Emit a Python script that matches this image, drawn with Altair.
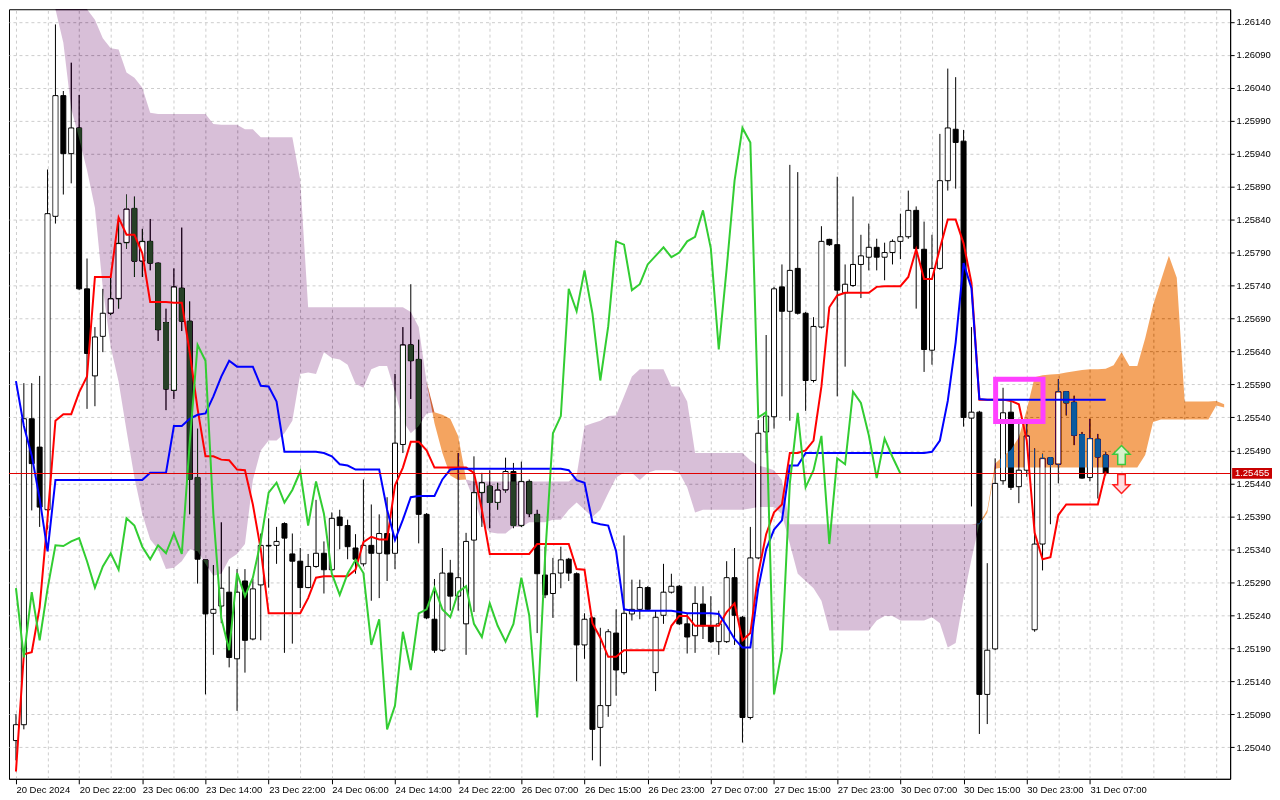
import json
import altair as alt
import pandas as pd

# ---------------- data (H1 candles with Ichimoku) ----------------
opens = [
1.25050, 1.25074, 1.25538, 1.25495, 1.25400, 1.25845, 1.26028, 1.25940, 1.25979, 1.25735,
1.25603, 1.25663, 1.25698, 1.25720, 1.25805, 1.25857, 1.25777, 1.25807, 1.25774, 1.25684,
1.25581, 1.25736, 1.25686, 1.25449, 1.25324, 1.25243, 1.25254, 1.25275, 1.25174, 1.25292,
1.25204, 1.25286, 1.25346, 1.25346, 1.25379, 1.25333, 1.25322, 1.25282, 1.25314, 1.25334,
1.25309, 1.25389, 1.25376, 1.25342, 1.25318, 1.25346, 1.25334, 1.25364, 1.25334, 1.25499,
1.25650, 1.25628, 1.25393, 1.25234, 1.25187, 1.25304, 1.25269, 1.25227, 1.25354, 1.25426,
1.25436, 1.25411, 1.25430, 1.25458, 1.25376, 1.25443, 1.25393, 1.25301, 1.25273, 1.25304,
1.25325, 1.25303, 1.25195, 1.25236, 1.25070, 1.25103, 1.25213, 1.25153, 1.25242, 1.25249,
1.25282, 1.25153, 1.25240, 1.25275, 1.25284, 1.25227, 1.25209, 1.25257, 1.25224, 1.25200,
1.25200, 1.25297, 1.25237, 1.25085, 1.25327, 1.25518, 1.25541, 1.25738, 1.25701, 1.25766,
1.25698, 1.25596, 1.25677, 1.25810, 1.25802, 1.25729, 1.25740, 1.25772, 1.25783, 1.25798,
1.25783, 1.25790, 1.25807, 1.25814, 1.25854, 1.25795, 1.25642, 1.25766, 1.25899, 1.25977,
1.25959, 1.25539, 1.25548, 1.25120, 1.25189, 1.25444, 1.25548, 1.25435, 1.25460, 1.25218,
1.25348, 1.25479, 1.25469, 1.25579, 1.25563, 1.25514, 1.25449, 1.25507, 1.25483,
]
highs = [
1.25090, 1.25592, 1.25592, 1.25603, 1.25916, 1.26136, 1.26035, 1.26078, 1.26029, 1.25781,
1.25677, 1.25735, 1.25753, 1.25841, 1.25878, 1.25875, 1.25826, 1.25841, 1.25775, 1.25705,
1.25766, 1.25828, 1.25716, 1.25523, 1.25325, 1.25316, 1.25381, 1.25314, 1.25310, 1.25310,
1.25295, 1.25364, 1.25387, 1.25374, 1.25381, 1.25364, 1.25342, 1.25333, 1.25415, 1.25352,
1.25396, 1.25400, 1.25385, 1.25363, 1.25446, 1.25408, 1.25393, 1.25419, 1.25606, 1.25677,
1.25742, 1.25658, 1.25395, 1.25295, 1.25342, 1.25324, 1.25486, 1.25365, 1.25481, 1.25456,
1.25460, 1.25441, 1.25479, 1.25471, 1.25473, 1.25446, 1.25400, 1.25344, 1.25327, 1.25344,
1.25327, 1.25305, 1.25243, 1.25238, 1.25221, 1.25219, 1.25249, 1.25361, 1.25294, 1.25294,
1.25284, 1.25247, 1.25318, 1.25303, 1.25286, 1.25242, 1.25284, 1.25284, 1.25269, 1.25247,
1.25322, 1.25342, 1.25239, 1.25374, 1.25536, 1.25665, 1.25738, 1.25772, 1.25923, 1.25912,
1.25700, 1.25692, 1.25830, 1.25811, 1.25905, 1.25772, 1.25875, 1.25817, 1.25834, 1.25811,
1.25805, 1.25810, 1.25849, 1.25884, 1.25860, 1.25837, 1.25817, 1.25970, 1.26069, 1.26056,
1.25976, 1.25677, 1.25550, 1.25319, 1.25478, 1.25585, 1.25564, 1.25538, 1.25533, 1.25493,
1.25485, 1.25480, 1.25598, 1.25580, 1.25573, 1.25518, 1.25538, 1.25515, 1.25488,
]
lows = [
1.25020, 1.25067, 1.25399, 1.25374, 1.25370, 1.25834, 1.25878, 1.25895, 1.25733, 1.25553,
1.25557, 1.25639, 1.25695, 1.25705, 1.25796, 1.25753, 1.25753, 1.25763, 1.25656, 1.25551,
1.25568, 1.25671, 1.25393, 1.25288, 1.25120, 1.25180, 1.25228, 1.25161, 1.25095, 1.25153,
1.25202, 1.25202, 1.25282, 1.25318, 1.25183, 1.25197, 1.25251, 1.25281, 1.25312, 1.25273,
1.25307, 1.25340, 1.25325, 1.25303, 1.25314, 1.25262, 1.25266, 1.25292, 1.25310, 1.25486,
1.25568, 1.25349, 1.25234, 1.25183, 1.25185, 1.25247, 1.25247, 1.25180, 1.25245, 1.25374,
1.25372, 1.25400, 1.25426, 1.25372, 1.25374, 1.25389, 1.25213, 1.25266, 1.25236, 1.25281,
1.25292, 1.25140, 1.25174, 1.25020, 1.25011, 1.25086, 1.25118, 1.25150, 1.25232, 1.25234,
1.25247, 1.25125, 1.25227, 1.25273, 1.25225, 1.25182, 1.25183, 1.25204, 1.25198, 1.25180,
1.25198, 1.25195, 1.25047, 1.25082, 1.25325, 1.25486, 1.25523, 1.25572, 1.25535, 1.25696,
1.25550, 1.25593, 1.25675, 1.25800, 1.25572, 1.25617, 1.25738, 1.25721, 1.25763, 1.25763,
1.25748, 1.25772, 1.25780, 1.25811, 1.25705, 1.25609, 1.25620, 1.25764, 1.25884, 1.25887,
1.25526, 1.25405, 1.25060, 1.25075, 1.25187, 1.25438, 1.25430, 1.25410, 1.25450, 1.25215,
1.25308, 1.25378, 1.25440, 1.25543, 1.25498, 1.25447, 1.25443, 1.25417, 1.25452,
]
closes = [
1.25074, 1.25538, 1.25470, 1.25404, 1.25849, 1.26028, 1.25940, 1.25979, 1.25735, 1.25637,
1.25662, 1.25698, 1.25720, 1.25804, 1.25856, 1.25777, 1.25807, 1.25774, 1.25673, 1.25583,
1.25738, 1.25686, 1.25446, 1.25325, 1.25242, 1.25249, 1.25281, 1.25176, 1.25275, 1.25202,
1.25280, 1.25346, 1.25345, 1.25352, 1.25357, 1.25322, 1.25282, 1.25314, 1.25334, 1.25309,
1.25387, 1.25376, 1.25344, 1.25325, 1.25346, 1.25334, 1.25364, 1.25333, 1.25501, 1.25650,
1.25626, 1.25393, 1.25236, 1.25187, 1.25304, 1.25269, 1.25297, 1.25352, 1.25426, 1.25441,
1.25411, 1.25430, 1.25458, 1.25376, 1.25443, 1.25394, 1.25303, 1.25271, 1.25303, 1.25324,
1.25304, 1.25195, 1.25234, 1.25067, 1.25103, 1.25215, 1.25157, 1.25243, 1.25249, 1.25282,
1.25249, 1.25237, 1.25275, 1.25284, 1.25227, 1.25207, 1.25258, 1.25224, 1.25200, 1.25227,
1.25297, 1.25240, 1.25085, 1.25327, 1.25516, 1.25542, 1.25735, 1.25701, 1.25763, 1.25698,
1.25596, 1.25678, 1.25807, 1.25802, 1.25733, 1.25742, 1.25772, 1.25785, 1.25798, 1.25783,
1.25790, 1.25807, 1.25814, 1.25854, 1.25796, 1.25643, 1.25766, 1.25899, 1.25979, 1.25957,
1.25540, 1.25548, 1.25120, 1.25187, 1.25440, 1.25547, 1.25434, 1.25460, 1.25512, 1.25348,
1.25478, 1.25469, 1.25579, 1.25562, 1.25513, 1.25448, 1.25508, 1.25480, 1.25455,
]
tenkan = [
1.25003, 1.25181, 1.25184, 1.25252, 1.25387, 1.25535, 1.25545, 1.25545, 1.25578, 1.25602,
1.25753, 1.25753, 1.25753, 1.25843, 1.25817, 1.25817, 1.25789, 1.25715, 1.25715, 1.25715,
1.25714, 1.25714, 1.25639, 1.25553, 1.25481, 1.25481, 1.25476, 1.25475, 1.25461, 1.25460,
1.25408, 1.25340, 1.25243, 1.25243, 1.25243, 1.25243, 1.25243, 1.25266, 1.25297, 1.25299,
1.25299, 1.25299, 1.25299, 1.25309, 1.25351, 1.25359, 1.25355, 1.25355, 1.25437, 1.25464,
1.25503, 1.25503, 1.25490, 1.25464, 1.25464, 1.25464, 1.25464, 1.25464, 1.25456, 1.25400,
1.25333, 1.25333, 1.25333, 1.25333, 1.25333, 1.25333, 1.25348, 1.25348, 1.25348, 1.25348,
1.25348, 1.25310, 1.25309, 1.25228, 1.25206, 1.25177, 1.25177, 1.25187, 1.25187, 1.25187,
1.25187, 1.25187, 1.25187, 1.25224, 1.25239, 1.25239, 1.25224, 1.25224, 1.25224, 1.25224,
1.25245, 1.25258, 1.25202, 1.25213, 1.25303, 1.25363, 1.25396, 1.25408, 1.25486, 1.25486,
1.25490, 1.25505, 1.25587, 1.25707, 1.25725, 1.25729, 1.25729, 1.25729, 1.25729, 1.25738,
1.25739, 1.25739, 1.25739, 1.25753, 1.25795, 1.25750, 1.25750, 1.25796, 1.25840, 1.25840,
1.25804, 1.25744, 1.25567, 1.25567, 1.25567, 1.25567, 1.25565, 1.25560, 1.25505, 1.25365,
1.25325, 1.25328, 1.25392, 1.25408, 1.25408, 1.25408, 1.25408, 1.25408, 1.25458,
]
kijun = [
1.25595, 1.25527, 1.25482, 1.25417, 1.25337, 1.25445, 1.25445, 1.25445, 1.25445, 1.25445,
1.25445, 1.25445, 1.25445, 1.25445, 1.25445, 1.25445, 1.25445, 1.25456, 1.25456, 1.25456,
1.25527, 1.25527, 1.25538, 1.25544, 1.25546, 1.25572, 1.25602, 1.25626, 1.25617, 1.25617,
1.25617, 1.25588, 1.25587, 1.25564, 1.25488, 1.25488, 1.25488, 1.25488, 1.25488, 1.25486,
1.25481, 1.25469, 1.25467, 1.25461, 1.25461, 1.25461, 1.25461, 1.25400, 1.25354, 1.25385,
1.25419, 1.25421, 1.25421, 1.25421, 1.25446, 1.25461, 1.25462, 1.25462, 1.25462, 1.25462,
1.25462, 1.25462, 1.25462, 1.25462, 1.25462, 1.25462, 1.25462, 1.25462, 1.25462, 1.25462,
1.25460, 1.25445, 1.25441, 1.25381, 1.25378, 1.25376, 1.25337, 1.25249, 1.25247, 1.25247,
1.25247, 1.25247, 1.25247, 1.25247, 1.25245, 1.25243, 1.25243, 1.25243, 1.25243, 1.25242,
1.25224, 1.25204, 1.25191, 1.25191, 1.25281, 1.25340, 1.25370, 1.25384, 1.25467, 1.25467,
1.25486, 1.25486, 1.25486, 1.25486, 1.25486, 1.25486, 1.25486, 1.25486, 1.25486, 1.25486,
1.25486, 1.25486, 1.25486, 1.25486, 1.25486, 1.25486, 1.25488, 1.25505, 1.25565, 1.25654,
1.25774, 1.25736, 1.25568, 1.25567, 1.25567, 1.25567, 1.25567, 1.25567, 1.25567, 1.25567,
1.25567, 1.25567, 1.25567, 1.25567, 1.25567, 1.25567, 1.25567, 1.25567, 1.25567,
]
span_a = [
1.26250, 1.26250, 1.26250, 1.26250, 1.26250, 1.26160, 1.26108, 1.26008, 1.25963, 1.25915,
1.25858, 1.25736, 1.25647, 1.25594, 1.25520, 1.25449, 1.25393, 1.25355, 1.25340, 1.25310,
1.25312, 1.25322, 1.25340, 1.25337, 1.25318, 1.25300, 1.25303, 1.25325, 1.25333, 1.25348,
1.25445, 1.25490, 1.25505, 1.25505, 1.25516, 1.25535, 1.25606, 1.25608, 1.25606, 1.25639,
1.25630, 1.25628, 1.25620, 1.25591, 1.25585, 1.25613, 1.25618, 1.25618, 1.25579, 1.25535,
1.25516, 1.25527, 1.25546, 1.25548, 1.25544, 1.25538, 1.25512, 1.25444, 1.25415, 1.25381,
1.25366, 1.25364, 1.25364, 1.25374, 1.25374, 1.25381, 1.25381, 1.25381, 1.25385, 1.25385,
1.25400, 1.25411, 1.25400, 1.25389, 1.25400, 1.25425, 1.25449, 1.25456, 1.25456, 1.25445,
1.25456, 1.25460, 1.25460, 1.25460, 1.25456, 1.25434, 1.25396, 1.25400, 1.25400, 1.25400,
1.25400, 1.25400, 1.25400, 1.25402, 1.25404, 1.25404, 1.25404, 1.25393, 1.25348, 1.25303,
1.25292, 1.25281, 1.25262, 1.25217, 1.25217, 1.25217, 1.25217, 1.25217, 1.25217, 1.25232,
1.25239, 1.25239, 1.25232, 1.25232, 1.25232, 1.25232, 1.25237, 1.25228, 1.25191, 1.25198,
1.25266, 1.25325, 1.25379, 1.25400, 1.25470, 1.25481, 1.25491, 1.25510, 1.25552, 1.25601,
1.25604, 1.25605, 1.25606, 1.25608, 1.25610, 1.25612, 1.25613, 1.25613, 1.25614, 1.25619,
1.25639, 1.25618, 1.25618, 1.25660, 1.25710, 1.25748, 1.25785, 1.25752, 1.25564, 1.25564,
1.25564, 1.25564, 1.25565, 1.25560,
]
span_b = [
1.26350, 1.26350, 1.26350, 1.26350, 1.26350, 1.26350, 1.26350, 1.26350, 1.26350, 1.26200,
1.26143, 1.26115, 1.26100, 1.26098, 1.26063, 1.26055, 1.26040, 1.26002, 1.26000, 1.26000,
1.26000, 1.26000, 1.26000, 1.26000, 1.26000, 1.25985, 1.25984, 1.25984, 1.25984, 1.25977,
1.25977, 1.25965, 1.25965, 1.25965, 1.25965, 1.25965, 1.25900, 1.25707, 1.25707, 1.25707,
1.25707, 1.25707, 1.25707, 1.25707, 1.25707, 1.25707, 1.25707, 1.25707, 1.25707, 1.25707,
1.25700, 1.25677, 1.25594, 1.25531, 1.25486, 1.25452, 1.25445, 1.25446, 1.25443, 1.25443,
1.25443, 1.25443, 1.25443, 1.25443, 1.25443, 1.25443, 1.25443, 1.25443, 1.25443, 1.25443,
1.25443, 1.25452, 1.25527, 1.25531, 1.25535, 1.25542, 1.25543, 1.25572, 1.25602, 1.25613,
1.25613, 1.25613, 1.25613, 1.25587, 1.25587, 1.25564, 1.25486, 1.25486, 1.25486, 1.25486,
1.25486, 1.25486, 1.25486, 1.25475, 1.25467, 1.25464, 1.25460, 1.25445, 1.25378, 1.25378,
1.25378, 1.25378, 1.25378, 1.25378, 1.25378, 1.25378, 1.25378, 1.25378, 1.25378, 1.25378,
1.25378, 1.25378, 1.25378, 1.25378, 1.25378, 1.25378, 1.25378, 1.25378, 1.25378, 1.25378,
1.25378, 1.25378, 1.25378, 1.25395, 1.25462, 1.25464, 1.25464, 1.25464, 1.25464, 1.25464,
1.25464, 1.25464, 1.25464, 1.25464, 1.25464, 1.25464, 1.25464, 1.25464, 1.25464, 1.25464,
1.25464, 1.25464, 1.25464, 1.25483, 1.25533, 1.25537, 1.25537, 1.25537, 1.25537, 1.25537,
1.25537, 1.25537, 1.25558, 1.25555,
]
x_labels = ["20 Dec 2024", "20 Dec 22:00", "23 Dec 06:00", "23 Dec 14:00", "23 Dec 22:00",
            "24 Dec 06:00", "24 Dec 14:00", "24 Dec 22:00", "26 Dec 07:00", "26 Dec 15:00",
            "26 Dec 23:00", "27 Dec 07:00", "27 Dec 15:00", "27 Dec 23:00", "30 Dec 07:00",
            "30 Dec 15:00", "30 Dec 23:00", "31 Dec 07:00"]
current_price = 1.25455
box_bars = [124.06, 130.06]          # highlighted zone (bar index range)
box_prices = [1.25598, 1.25534]      # highlighted zone (price range)
arrow_bar = [140, 140]
arrow_prices = [1.25483, 1.25439]    # up arrow, down arrow
chikou_shift = 26

# ---------------- frames ----------------
n = len(closes)
bars = pd.DataFrame({"i": list(range(n)), "open": opens, "high": highs, "low": lows,
                     "close": closes, "tenkan": tenkan, "kijun": kijun})
chikou = pd.DataFrame({"i": list(range(n - chikou_shift)), "chikou": closes[chikou_shift:]})
cloud = pd.DataFrame({"i": list(range(len(span_a))), "a": span_a, "b": span_b})
price_df = pd.DataFrame({"p": [current_price], "label": [f"{current_price:.5f}"]})
box_df = pd.DataFrame({"x0": [box_bars[0]], "x1": [box_bars[1]], "p0": [box_prices[0]], "p1": [box_prices[1]]})
up_df = pd.DataFrame({"i": [arrow_bar[0]], "p": [arrow_prices[0]]})
dn_df = pd.DataFrame({"i": [arrow_bar[1]], "p": [arrow_prices[1]]})

W, H = 1225, 772
FONT = "Liberation Sans"
FS = 9.5
GRID = "#cdcdcd"
xs = alt.Scale(domain=[-0.25, 153.125], nice=False, zero=False)
ys = alt.Scale(domain=[1.24992, 1.26159], nice=False, zero=False, clamp=True)

price_ticks = [round(1.25040 + 0.0005 * k, 5) for k in range(23)]
label_pos = [8 * k for k in range(len(x_labels))]
grid_pos = list(range(0, 154, 4))
label_expr = json.dumps(x_labels) + "[round(datum.value / 8)]"


def X(axis=None):
    return alt.X("i:Q", scale=xs, axis=axis, title=None)


def Y(field, axis=None):
    return alt.Y(field, scale=ys, axis=axis, title=None)


x_grid_axis = alt.Axis(orient="top", values=grid_pos, grid=True, gridColor=GRID, gridDash=[3, 3],
                       labels=False, ticks=False, domain=False, title=None)
x_label_axis = alt.Axis(orient="bottom", values=label_pos, grid=False, labelExpr=label_expr,
                        labelAlign="left", labelBaseline="top", labelPadding=1, tickSize=5,
                        tickColor="black", domainColor="black", labelFont=FONT, labelFontSize=FS,
                        labelColor="black", labelOverlap=False, labelFlush=False, labelBound=False,
                        title=None)
y_axis = alt.Axis(orient="right", values=price_ticks, format=".5f", grid=True, gridColor=GRID,
                  gridDash=[3, 3], tickSize=4, tickColor="black", domainColor="black",
                  labelPadding=2, labelFont=FONT, labelFontSize=FS, labelColor="black",
                  labelOverlap=False, labelFlush=False, labelBound=False, title=None)

base = alt.Chart(bars)

wicks = base.mark_rule(color="black", strokeWidth=1).encode(
    x=X(x_grid_axis), y=Y("low:Q", y_axis), y2="high:Q")

bodies = base.mark_bar(size=5, stroke="black", strokeWidth=1).encode(
    x=X(x_label_axis), y=Y("open:Q"), y2="close:Q",
    fill=alt.condition("datum.close > datum.open", alt.value("white"), alt.value("black")))

cloud_base = alt.Chart(cloud).transform_calculate(hi="max(datum.a, datum.b)")
cloud_purple = cloud_base.mark_area(color="#274027", blend="difference", opacity=1).encode(
    x=X(), y=Y("a:Q"), y2="hi:Q")
cloud_orange = cloud_base.mark_area(color="#0b5b9f", blend="difference", opacity=1).encode(
    x=X(), y=Y("b:Q"), y2="hi:Q")

white_fill = base.transform_filter("datum.close - datum.open > 0.00005").mark_bar(
    size=4, yOffset=1, y2Offset=-1, color="white", strokeWidth=0).encode(
    x=X(), y=Y("close:Q"), y2="open:Q")

tenkan_line = base.mark_line(color="#ff0000", strokeWidth=2).encode(x=X(), y=Y("tenkan:Q"))
kijun_line = base.mark_line(color="#0000ff", strokeWidth=2).encode(x=X(), y=Y("kijun:Q"))
chikou_line = alt.Chart(chikou).mark_line(color="#32cd32", strokeWidth=2).encode(x=X(), y=Y("chikou:Q"))

price_line = alt.Chart(price_df).mark_rule(color="#e00000", strokeWidth=1.2).encode(y=Y("p:Q"))

zone = alt.Chart(box_df).mark_rect(fillOpacity=0, stroke="#ff40ff", strokeWidth=5).encode(
    x=alt.X("x0:Q", scale=xs, axis=None), x2="x1:Q", y=Y("p0:Q"), y2="p1:Q")

UP = "M0,-1 L0.9,-0.08 L0.4,-0.08 L0.4,1 L-0.4,1 L-0.4,-0.08 L-0.9,-0.08 Z"
DN = "M0,1 L0.9,0.08 L0.4,0.08 L0.4,-1 L-0.4,-1 L-0.4,0.08 L-0.9,0.08 Z"
up_arrow = alt.Chart(up_df).mark_point(shape=UP, size=361, filled=True, fill="#d6f2cc",
                                       stroke="#3cc83c", strokeWidth=1.5, opacity=1).encode(
    x=X(), y=Y("p:Q"))
dn_arrow = alt.Chart(dn_df).mark_point(shape=DN, size=361, filled=True, fill="#ffdbe0",
                                       stroke="#ff2020", strokeWidth=1.5, opacity=1).encode(
    x=X(), y=Y("p:Q"))

RECT = "M-1,-0.27 L1,-0.27 L1,0.27 L-1,0.27 Z"
price_box = alt.Chart(price_df).mark_point(shape=RECT, size=1600, filled=True, color="#c80000",
                                           strokeWidth=0, opacity=1).encode(
    x=alt.value(W + 22), y=Y("p:Q"))
price_text = alt.Chart(price_df).mark_text(color="white", font=FONT, fontSize=FS, align="center",
                                           baseline="middle").encode(
    x=alt.value(W + 22), y=Y("p:Q"), text="label:N")

chart = alt.layer(
    wicks, bodies, cloud_purple, cloud_orange, white_fill,
    tenkan_line, kijun_line, chikou_line, price_line, zone, up_arrow, dn_arrow,
    price_box, price_text,
).resolve_axis(x="independent", y="independent").properties(
    width=W, height=H, background="white",
    padding={"left": 0, "top": 0, "right": 0, "bottom": 0},
).configure_view(stroke="black", strokeWidth=1, fill="white")

chart.save("out.html", embed_options={"renderer": "svg", "actions": False})
